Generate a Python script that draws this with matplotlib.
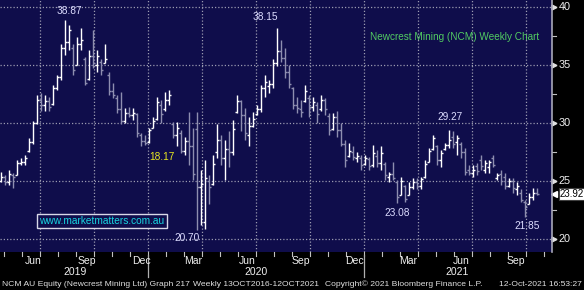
import matplotlib
matplotlib.use('Agg')
import matplotlib.pyplot as plt

# weekly OHLC, Newcrest Mining (NCM)
highs = [25.8, 25.5, 26.0, 25.7, 26.8, 27.0, 27.3, 28.7, 30.2, 32.4,
         32.6, 32.4, 32.3, 33.3, 34.2, 36.8, 38.9, 38.5, 36.8, 37.4,
         38.2, 35.7, 36.3, 38.0, 36.3, 35.5, 36.8, 34.4, 33.5, 32.4,
         32.7, 31.3, 31.4, 31.3, 30.9, 29.2, 29.0, 29.6, 30.5, 32.3,
         32.0, 32.7, 32.9, 30.1, 30.1, 29.4, 28.8, 31.0, 29.6, 31.0,
         26.0, 26.8, 25.5, 27.3, 29.9, 29.0, 28.6, 29.3, 30.3, 32.4,
         32.0, 31.3, 30.5, 31.0, 31.6, 33.3, 34.2, 33.7, 35.5, 38.2,
         37.2, 36.5, 35.0, 33.1, 32.3, 32.0, 33.3, 32.4, 32.3, 31.8,
         32.4, 32.2, 30.9, 30.9, 31.1, 30.0, 28.6, 28.3, 28.0, 27.5,
         27.3, 27.3, 27.1, 28.1, 27.7, 28.0, 26.7, 25.8, 26.7, 25.1,
         25.4, 24.7, 24.9, 25.3, 25.3, 25.4, 26.8, 27.9, 29.0, 28.1,
         27.7, 28.3, 29.4, 29.3, 29.0, 28.4, 27.9, 26.4, 26.4, 26.6,
         27.3, 26.8, 26.8, 27.3, 25.7, 26.0, 25.7, 25.3, 25.3, 24.9,
         24.3, 23.4, 24.0, 24.4, 24.4]
lows = [24.9, 24.7, 24.7, 24.4, 25.5, 26.4, 26.4, 27.5, 28.2, 29.9,
        31.1, 31.1, 31.1, 31.6, 32.9, 33.7, 35.9, 36.3, 34.2, 35.0,
        36.3, 33.3, 33.7, 34.8, 34.4, 34.2, 35.2, 32.4, 32.2, 30.9,
        29.9, 30.0, 30.5, 30.3, 28.8, 28.0, 28.1, 28.3, 29.6, 30.3,
        30.0, 31.1, 31.6, 28.7, 28.0, 27.4, 27.3, 26.4, 25.1, 20.8,
        21.2, 20.9, 23.0, 24.7, 27.0, 26.4, 25.1, 26.2, 27.3, 30.9,
        29.3, 28.6, 28.0, 29.7, 30.7, 31.0, 32.3, 32.6, 33.0, 34.9,
        35.3, 33.9, 33.0, 31.2, 30.9, 30.5, 31.8, 30.5, 31.1, 30.0,
        31.1, 30.7, 29.0, 29.4, 28.8, 28.0, 26.2, 27.1, 26.8, 26.7,
        26.0, 26.4, 26.0, 26.2, 26.2, 26.0, 25.1, 24.9, 25.1, 23.1,
        23.8, 23.2, 23.8, 24.3, 24.3, 24.3, 25.3, 26.7, 27.7, 26.4,
        26.2, 27.7, 27.9, 27.9, 27.3, 27.0, 25.5, 25.5, 25.4, 25.5,
        26.0, 25.7, 25.7, 26.2, 25.1, 24.7, 24.3, 24.5, 24.0, 23.8,
        23.2, 21.9, 23.0, 23.4, 23.8]
opens = [25.0, 25.4, 24.9, 25.5, 25.5, 26.6, 26.7, 27.6, 28.4, 30.0,
         32.0, 31.6, 31.9, 31.7, 33.0, 34.0, 36.5, 37.0, 36.5, 35.0,
         36.8, 35.5, 33.8, 35.8, 35.0, 35.3, 35.2, 34.2, 32.8, 32.2,
         31.2, 30.2, 30.9, 30.7, 30.8, 29.0, 28.5, 28.4, 29.6, 30.4,
         31.6, 31.2, 32.0, 29.9, 29.0, 29.2, 27.6, 28.5, 28.0, 29.5,
         24.5, 21.5, 25.0, 24.8, 27.5, 28.6, 27.0, 27.8, 27.5, 31.0,
         31.9, 30.7, 29.0, 29.8, 30.8, 31.2, 33.0, 33.2, 33.4, 35.2,
         36.2, 35.6, 34.4, 33.0, 31.6, 31.2, 31.9, 32.2, 31.4, 31.6,
         31.2, 32.0, 30.6, 29.5, 30.5, 29.4, 28.2, 27.2, 27.5, 27.0,
         27.0, 26.5, 26.9, 26.4, 27.2, 26.6, 26.5, 25.4, 25.6, 24.9,
         23.8, 24.6, 23.8, 24.5, 24.9, 24.6, 25.4, 26.7, 27.8, 28.0,
         26.8, 27.8, 28.1, 28.8, 28.4, 28.2, 27.5, 26.0, 25.7, 26.3,
         26.8, 26.0, 26.2, 27.0, 25.3, 25.6, 25.4, 24.6, 25.0, 24.3,
         24.0, 23.2, 23.0, 23.6, 24.0]
closes = [25.4, 24.9, 25.6, 25.4, 26.6, 26.7, 27.0, 28.4, 30.0, 32.0,
          31.6, 31.9, 31.4, 33.0, 34.0, 36.5, 37.0, 38.0, 34.6, 36.8,
          37.2, 33.5, 35.8, 35.2, 35.8, 34.6, 35.5, 32.8, 32.4, 31.2,
          30.2, 30.9, 30.7, 30.9, 29.2, 28.5, 28.3, 29.4, 30.2, 31.8,
          30.8, 32.0, 32.4, 29.0, 29.6, 27.6, 28.5, 28.0, 25.6, 24.5,
          24.8, 25.3, 24.5, 26.5, 28.6, 27.0, 27.8, 27.5, 29.5, 31.9,
          30.7, 29.2, 29.8, 30.4, 31.2, 33.0, 33.6, 33.4, 35.2, 36.2,
          35.6, 34.4, 33.4, 31.6, 31.3, 31.0, 32.8, 31.4, 31.8, 30.8,
          32.0, 31.2, 29.4, 30.5, 29.4, 28.2, 26.8, 27.6, 27.1, 27.2,
          26.4, 27.0, 26.3, 27.4, 26.6, 27.4, 25.5, 25.6, 25.3, 23.6,
          25.0, 23.5, 24.5, 24.9, 24.6, 25.2, 26.5, 27.6, 28.7, 26.8,
          27.4, 28.1, 28.6, 28.2, 28.7, 27.5, 25.8, 25.7, 26.0, 25.9,
          26.3, 26.6, 26.7, 26.4, 25.5, 25.0, 24.6, 25.0, 24.4, 24.6,
          23.4, 22.8, 23.6, 24.0, 23.92]

month_labels = ['Jun', 'Sep', 'Dec', 'Mar', 'Jun', 'Sep', 'Dec', 'Mar', 'Jun', 'Sep']
year_labels = ['2019', '2020', '2021']
price_ticks = [20, 25, 30, 35, 40]
last_price = 23.92

# marked highs and lows (text, bar position, price level, colour)
callouts = [('38.87', 17.2, 39.68, '#dcdcff'),
            ('38.15', 66.2, 39.16, '#dcdcff'),
            ('29.27', 112.2, 30.54, '#dcdcff'),
            ('18.17', 40.2, 27.1, '#e8e820'),
            ('20.70', 46.5, 20.11, '#dcdcff'),
            ('23.08', 99.0, 22.27, '#dcdcff'),
            ('21.85', 131.5, 21.15, '#dcdcff')]

plt.rcParams['font.family'] = ['Liberation Sans', 'DejaVu Sans']

W, H = 584, 290
fig = plt.figure(figsize=(W / 100, H / 100), dpi=100, facecolor='black')
ax = fig.add_axes([0, 38 / H, 552 / W, 252 / H])
ax.set_facecolor('#0f0d4b')
ax.set_xlim(-0.25, 137.75)
ax.set_ylim(18.9, 40.63)

grid_kw = dict(color='#9a9ab0', lw=0.9, linestyle=(0, (1, 1.6)), zorder=1)
for p in price_ticks:
    ax.axhline(p, **grid_kw)
quarter_starts = [9.75 + 13.5 * k for k in range(10)]
for q in quarter_starts:
    ax.axvline(q, **grid_kw)

# OHLC bars
for i in range(len(highs)):
    c = '#ffffff' if closes[i] >= opens[i] else '#8e8eb0'
    ax.vlines(i, lows[i], highs[i], color=c, lw=1.0, zorder=3)
    ax.hlines(opens[i], i - 0.55, i, color=c, lw=1.0, zorder=3)
    ax.hlines(closes[i], i, i + 0.55, color=c, lw=1.0, zorder=3)

for txt, xi, yv, col in callouts:
    ax.text(xi, yv, txt, color=col, fontsize=7.3, ha='center', va='center', zorder=4)

ax.text(92.2, 37.44, 'Newcrest Mining (NCM) Weekly Chart', color='#52cc62',
        fontsize=7.2, ha='left', va='center')
ax.text(25.25, 21.58, 'www.marketmatters.com.au', color='#18d6e0', fontsize=7.3,
        ha='center', va='center', zorder=5,
        bbox=dict(boxstyle='square,pad=0.2', facecolor='#0f0d4b', edgecolor='#d8d8e8', lw=1))

for s in ['top', 'left', 'bottom']:
    ax.spines[s].set_visible(False)
ax.spines['right'].set_color('#a8a8b8')
ax.spines['right'].set_linewidth(1.2)
ax.set_xticks([])
ax.set_yticks([])

# right price axis
ytr = ax.get_yaxis_transform()
for p in price_ticks:
    ax.plot([1.003], [p], marker='>', ms=3.5, color='#e0e0e0', transform=ytr, clip_on=False)
    ax.text(1.012, p, str(p), color='#f0f0f0', fontsize=7.8, ha='left', va='center',
            transform=ytr)
for p in [22.5, 27.5, 32.5, 37.5]:
    ax.plot([1.0, 1.008], [p, p], color='#c0c0c0', lw=0.8, transform=ytr, clip_on=False)
ax.plot([1.004], [last_price], marker='<', ms=4, color='white', transform=ytr, clip_on=False)
ax.text(1.014, last_price, f'{last_price:.2f}', color='black', fontsize=7.0, ha='left',
        va='center', transform=ytr,
        bbox=dict(boxstyle='square,pad=0.12', facecolor='white', edgecolor='#404040', lw=0.8))

# time axis below the plot
xtr = ax.get_xaxis_transform()
month_pos = [8.0, 21.5, 35.0, 48.0, 61.5, 75.0, 88.25, 101.75, 115.0, 128.75]
for xp, lab in zip(month_pos, month_labels):
    ax.text(xp, -0.014, lab, color='#f0f0f0', fontsize=7.5, ha='center', va='top',
            transform=xtr)
for k in range(-2, 30):
    m = 9.75 + 4.5 * k
    if -0.25 < m < 137.75:
        ax.plot([m, m], [0, -0.014], color='#c0c0c0', lw=0.8, transform=xtr, clip_on=False)
for xp, lab in zip([18.5, 63.75, 114.0], year_labels):
    ax.text(xp, -0.058, lab, color='#f0f0f0', fontsize=7.5, ha='center', va='top',
            transform=xtr)
for q in [36.75, 90.75]:
    ax.plot([q, q], [-0.01, -0.1], color='#b0b0b0', lw=0.9, transform=xtr, clip_on=False)

# footer line
foot = dict(color='#e0e0e0', fontsize=6.1, va='center')
fig.text(2 / W, 1 - 284 / H, 'NCM AU Equity (Newcrest Mining Ltd) Graph 217', ha='left', **foot)
fig.text(193 / W, 1 - 284 / H, 'Weekly 13OCT2016-12OCT2021', ha='left', **foot)
fig.text(325 / W, 1 - 284 / H, 'Copyright\u00a9 2021 Bloomberg Finance L.P.', ha='left', **foot)
fig.text(582 / W, 1 - 284 / H, '12-Oct-2021 16:53:27', ha='right', **foot)

fig.savefig('out.png', dpi=100, facecolor='black')
